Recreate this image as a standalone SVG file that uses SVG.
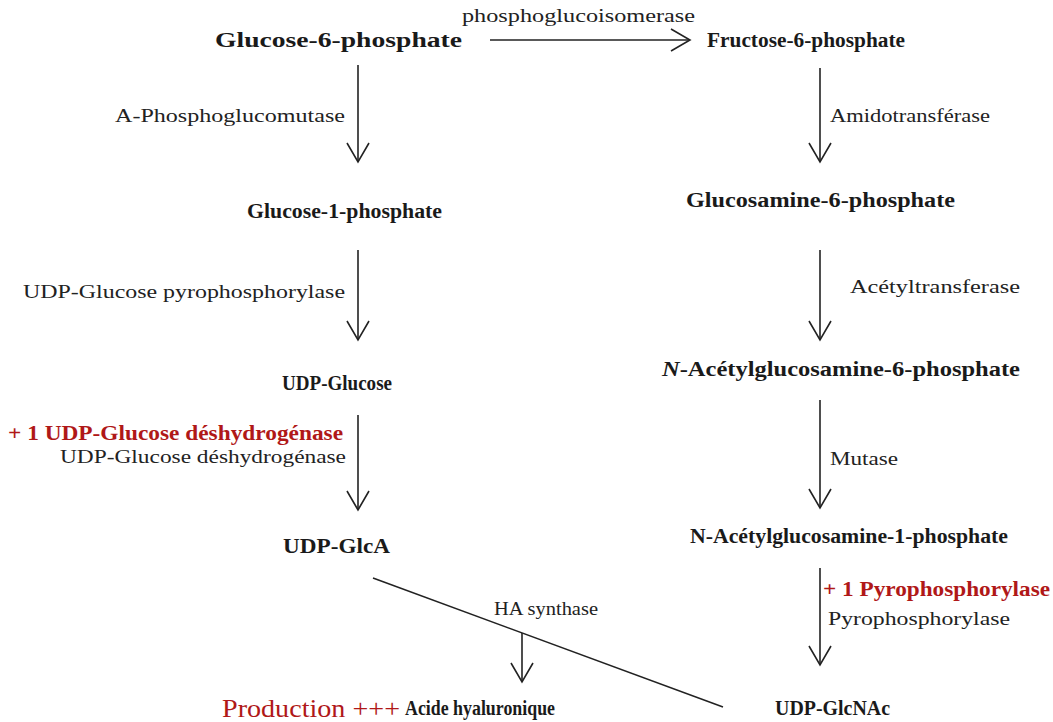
<svg xmlns="http://www.w3.org/2000/svg" width="1053" height="722" viewBox="0 0 1053 722">
<style>
text{font-family:"Liberation Serif",serif}
.n{font-weight:bold;font-size:20px;fill:#1a1a1a}
.e{font-size:19px;fill:#222}
.r{font-weight:bold;font-size:20px;fill:#b01818}
.big{font-size:26px;fill:#b01818}
.c{stroke:#222;stroke-width:1.6;fill:none}
</style>
<defs>
<marker id="ah" markerUnits="userSpaceOnUse" viewBox="-22 -13 24 26" refX="0" refY="0" markerWidth="24" markerHeight="26" orient="auto">
<path d="M-19,-11 L0,0 L-19,11" fill="none" stroke="#222" stroke-width="1.6"/>
</marker>
</defs>
<rect width="1053" height="722" fill="#fff"/>
<g id="connectors">
<line class="c" x1="490" y1="40" x2="690" y2="40" marker-end="url(#ah)"/>
<line class="c" x1="358" y1="65" x2="358" y2="162" marker-end="url(#ah)"/>
<line class="c" x1="820" y1="68" x2="820" y2="162" marker-end="url(#ah)"/>
<line class="c" x1="358" y1="250" x2="358" y2="340" marker-end="url(#ah)"/>
<line class="c" x1="820" y1="250" x2="820" y2="340" marker-end="url(#ah)"/>
<line class="c" x1="358" y1="415" x2="358" y2="510" marker-end="url(#ah)"/>
<line class="c" x1="820" y1="400" x2="820" y2="508" marker-end="url(#ah)"/>
<line class="c" x1="820" y1="568" x2="820" y2="665" marker-end="url(#ah)"/>
<line class="c" x1="373" y1="578" x2="723" y2="707"/>
<line class="c" x1="522" y1="633" x2="522" y2="682" marker-end="url(#ah)"/>
</g>
<g id="labels">
<text class="e" x="462" y="22" textLength="233" lengthAdjust="spacingAndGlyphs">phosphoglucoisomerase</text>
<text class="e" x="115" y="122" textLength="230" lengthAdjust="spacingAndGlyphs">A-Phosphoglucomutase</text>
<text class="e" x="830" y="122" textLength="160" lengthAdjust="spacingAndGlyphs">Amidotransférase</text>
<text class="e" x="23" y="298" textLength="322" lengthAdjust="spacingAndGlyphs">UDP-Glucose pyrophosphorylase</text>
<text class="e" x="850" y="293" textLength="170" lengthAdjust="spacingAndGlyphs">Acétyltransferase</text>
<text class="r" x="8" y="440" font-size="19" textLength="335" lengthAdjust="spacingAndGlyphs">+ 1 UDP-Glucose déshydrogénase</text>
<text class="e" x="60" y="463" font-size="18" textLength="286" lengthAdjust="spacingAndGlyphs">UDP-Glucose déshydrogénase</text>
<text class="e" x="830" y="465" textLength="68" lengthAdjust="spacingAndGlyphs">Mutase</text>
<text class="r" x="823" y="596" textLength="227" lengthAdjust="spacingAndGlyphs">+ 1 Pyrophosphorylase</text>
<text class="e" x="828" y="625" textLength="182" lengthAdjust="spacingAndGlyphs">Pyrophosphorylase</text>
<text class="e" x="494" y="615" textLength="104" lengthAdjust="spacingAndGlyphs">HA synthase</text>
</g>
<g id="n1"><text class="n" x="215" y="47" textLength="247" lengthAdjust="spacingAndGlyphs">Glucose-6-phosphate</text></g>
<g id="n2"><text class="n" x="707" y="47" textLength="198" lengthAdjust="spacingAndGlyphs">Fructose-6-phosphate</text></g>
<g id="n3"><text class="n" x="247" y="218" textLength="195" lengthAdjust="spacingAndGlyphs">Glucose-1-phosphate</text></g>
<g id="n4"><text class="n" x="686" y="207" textLength="269" lengthAdjust="spacingAndGlyphs">Glucosamine-6-phosphate</text></g>
<g id="n5"><text class="n" x="282" y="390" textLength="110" lengthAdjust="spacingAndGlyphs">UDP-Glucose</text></g>
<g id="n6"><text class="n" x="662" y="376" textLength="358" lengthAdjust="spacingAndGlyphs"><tspan font-style="italic">N</tspan>-Acétylglucosamine-6-phosphate</text></g>
<g id="n7"><text class="n" x="283" y="553" textLength="107" lengthAdjust="spacingAndGlyphs">UDP-GlcA</text></g>
<g id="n8"><text class="n" x="690" y="543" textLength="318" lengthAdjust="spacingAndGlyphs">N-Acétylglucosamine-1-phosphate</text></g>
<g id="n9"><text class="n" x="775" y="715" textLength="115" lengthAdjust="spacingAndGlyphs">UDP-GlcNAc</text></g>
<g id="n10"><text class="big" x="222" y="717" textLength="178" lengthAdjust="spacingAndGlyphs">Production +++</text><text class="n" x="405" y="715" textLength="150" lengthAdjust="spacingAndGlyphs">Acide hyaluronique</text></g>
</svg>
